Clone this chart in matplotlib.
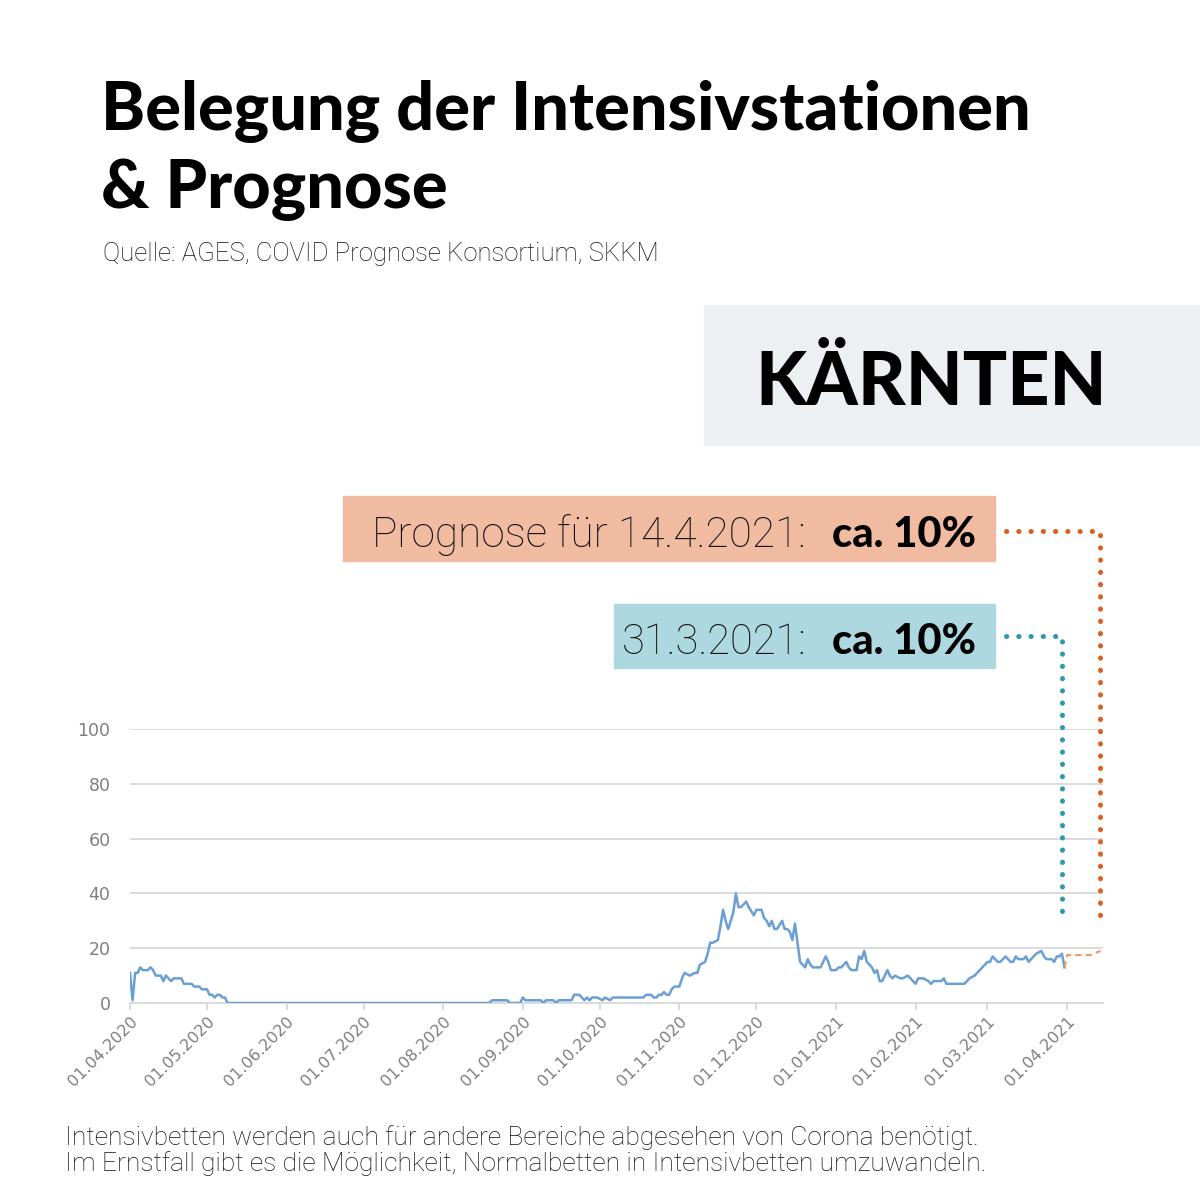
import matplotlib
matplotlib.use("Agg")
import matplotlib.pyplot as plt
import matplotlib.dates as mdates
from matplotlib.patches import Rectangle
from matplotlib.lines import Line2D
import pandas as pd

# Belegte Intensivbetten Kärnten
dates = [
    "2020-04-01", "2020-04-02", "2020-04-03", "2020-04-04", "2020-04-05", "2020-04-06",
    "2020-04-08", "2020-04-09", "2020-04-10", "2020-04-11", "2020-04-13", "2020-04-14",
    "2020-04-15", "2020-04-17", "2020-04-18", "2020-04-21", "2020-04-22", "2020-04-25",
    "2020-04-26", "2020-04-28", "2020-04-29", "2020-05-01", "2020-05-02", "2020-05-03",
    "2020-05-04", "2020-05-05", "2020-05-06", "2020-05-07", "2020-05-08", "2020-05-09",
    "2020-08-19", "2020-08-20", "2020-08-26", "2020-08-27", "2020-08-31", "2020-09-01",
    "2020-09-02", "2020-09-08", "2020-09-09", "2020-09-10", "2020-09-13", "2020-09-14",
    "2020-09-15", "2020-09-20", "2020-09-21", "2020-09-23", "2020-09-24", "2020-09-25",
    "2020-09-26", "2020-09-27", "2020-09-28", "2020-09-30", "2020-10-02", "2020-10-03",
    "2020-10-05", "2020-10-06", "2020-10-08", "2020-10-18", "2020-10-19", "2020-10-21",
    "2020-10-22", "2020-10-23", "2020-10-24", "2020-10-25", "2020-10-26", "2020-10-27",
    "2020-10-28", "2020-10-29", "2020-10-30", "2020-11-01", "2020-11-02", "2020-11-03",
    "2020-11-05", "2020-11-07", "2020-11-08", "2020-11-09", "2020-11-11", "2020-11-12",
    "2020-11-13", "2020-11-14", "2020-11-16", "2020-11-17", "2020-11-18", "2020-11-19",
    "2020-11-20", "2020-11-22", "2020-11-23", "2020-11-24", "2020-11-25", "2020-11-27",
    "2020-11-28", "2020-11-30", "2020-12-01", "2020-12-03", "2020-12-04", "2020-12-05",
    "2020-12-06", "2020-12-07", "2020-12-08", "2020-12-09", "2020-12-11", "2020-12-12",
    "2020-12-13", "2020-12-14", "2020-12-15", "2020-12-16", "2020-12-17", "2020-12-18",
    "2020-12-20", "2020-12-21", "2020-12-22", "2020-12-23", "2020-12-26", "2020-12-28",
    "2020-12-29", "2020-12-30", "2021-01-01", "2021-01-02", "2021-01-03", "2021-01-05",
    "2021-01-06", "2021-01-07", "2021-01-09", "2021-01-10", "2021-01-11", "2021-01-12",
    "2021-01-13", "2021-01-15", "2021-01-16", "2021-01-17", "2021-01-18", "2021-01-19",
    "2021-01-21", "2021-01-22", "2021-01-23", "2021-01-24", "2021-01-26", "2021-01-27",
    "2021-01-29", "2021-01-30", "2021-01-31", "2021-02-01", "2021-02-02", "2021-02-04",
    "2021-02-06", "2021-02-07", "2021-02-08", "2021-02-11", "2021-02-12", "2021-02-13",
    "2021-02-16", "2021-02-20", "2021-02-22", "2021-02-24", "2021-02-26", "2021-02-27",
    "2021-03-01", "2021-03-02", "2021-03-03", "2021-03-05", "2021-03-06", "2021-03-07",
    "2021-03-08", "2021-03-10", "2021-03-11", "2021-03-12", "2021-03-13", "2021-03-15",
    "2021-03-16", "2021-03-17", "2021-03-18", "2021-03-20", "2021-03-22", "2021-03-23",
    "2021-03-24", "2021-03-26", "2021-03-27", "2021-03-28", "2021-03-29", "2021-03-30",
    "2021-03-31",
]
beds = [
    11, 1, 11, 11, 13, 12,
    12, 13, 12, 10, 10, 8,
    10, 8, 9, 9, 7, 7,
    6, 6, 5, 5, 3, 3,
    2, 3, 3, 2, 2, 0,
    0, 1, 1, 0, 0, 2,
    1, 1, 0, 1, 1, 0,
    1, 1, 3, 3, 2, 1,
    2, 1, 2, 2, 1, 2,
    1, 2, 2, 2, 3, 3,
    2, 2, 3, 3, 4, 3,
    3, 5, 6, 6, 9, 11,
    10, 11, 11, 14, 15, 18,
    22, 22, 23, 28, 34, 30,
    27, 33, 40, 35, 35, 37,
    35, 32, 34, 34, 31, 30,
    28, 30, 27, 27, 30, 27,
    27, 26, 23, 29, 22, 15,
    13, 16, 14, 13, 13, 17,
    15, 12, 12, 13, 13, 15,
    13, 12, 12, 17, 16, 19,
    15, 13, 11, 12, 8, 8,
    12, 10, 9, 10, 9, 9,
    10, 9, 8, 7, 9, 9,
    8, 7, 8, 8, 9, 7,
    7, 7, 9, 10, 12, 13,
    15, 15, 17, 15, 15, 16,
    17, 15, 15, 17, 16, 16,
    17, 15, 16, 18, 19, 17,
    16, 16, 15, 17, 17, 18,
    13,
]

# Prognose bis 14.4.2021
forecast_dates = ["2021-03-31", "2021-04-01", "2021-04-10", "2021-04-14"]
forecast_beds = [13, 17.5, 17.5, 19]

y_ticks = [0, 20, 40, 60, 80, 100]

source = "Quelle: AGES, COVID Prognose Konsortium, SKKM"
region = "KÄRNTEN"
footer_1 = "Intensivbetten werden auch für andere Bereiche abgesehen von Corona benötigt."
footer_2 = "Im Ernstfall gibt es die Möglichkeit, Normalbetten in Intensivbetten umzuwandeln."

W = H = 1200
THIN = dict(family="Roboto", fontweight="light", color="#111111")


def fx(px):
    return px / W


def fy(py):
    return 1 - py / H


fig = plt.figure(figsize=(12, 12), dpi=100)
fig.patch.set_facecolor("white")

# Titel
fig.text(fx(101), fy(130), "Belegung der Intensivstationen", fontsize=48, fontweight="black",
         family="Lato", va="baseline", ha="left")
fig.text(fx(101), fy(208), "& Prognose", fontsize=48, fontweight="black",
         family="Lato", va="baseline", ha="left")
fig.text(fx(103), fy(261), source, fontsize=18.5, va="baseline", ha="left", **THIN)

# Region
fig.patches.append(Rectangle((fx(704), fy(445)), fx(1200 - 704), (445 - 305) / H,
                             transform=fig.transFigure, color="#ECF0F3", zorder=0))
fig.text(fx(931), fy(405), region, fontsize=53, fontweight="black", family="Lato",
         ha="center", va="baseline")

# Infoboxen
fig.patches.append(Rectangle((fx(343), fy(561)), fx(995 - 343), (561 - 496) / H,
                             transform=fig.transFigure, color="#F0BBA0", zorder=0))
fig.text(fx(806), fy(547), "Prognose für 14.4.2021:", fontsize=30.5,
         ha="right", va="baseline", **THIN)
fig.text(fx(976), fy(547), "ca. 10%", fontsize=30, fontweight="black",
         family="Lato", ha="right", va="baseline")

fig.patches.append(Rectangle((fx(614), fy(668)), fx(995 - 614), (668 - 604) / H,
                             transform=fig.transFigure, color="#ADD8E0", zorder=0))
fig.text(fx(806), fy(654), "31.3.2021:", fontsize=30, ha="right", va="baseline", **THIN)
fig.text(fx(976), fy(654), "ca. 10%", fontsize=30, fontweight="black",
         family="Lato", ha="right", va="baseline")

# punktierte Verbindungslinien
dot = dict(transform=fig.transFigure, linewidth=3.6, linestyle=(0, (0.05, 2.4)),
           dash_capstyle="round", zorder=5)
fig.add_artist(Line2D([fx(1006), fx(1100), fx(1100)], [fy(531), fy(531), fy(922)],
                      color="#D9601E", **dot))
fig.add_artist(Line2D([fx(1006), fx(1062), fx(1062)], [fy(636), fy(636), fy(922)],
                      color="#2E98AC", **dot))

# Diagramm
ax = fig.add_axes([fx(130), fy(1003), fx(1103 - 130), (1003 - 729) / H])
x = pd.to_datetime(dates)
xf = pd.to_datetime(forecast_dates)
ax.plot(x, beds, color="#6A9FD4", linewidth=1.8, zorder=3)
ax.plot(xf, forecast_beds, color="#F19A5C", linewidth=1.5, linestyle=(0, (3, 2)), zorder=3)

ax.set_xlim(pd.Timestamp("2020-04-01"), pd.Timestamp("2021-04-15"))
ax.set_ylim(0, 100)
ax.set_yticks(y_ticks)
ax.grid(axis="y", color="#D9D9D9", linewidth=1.3)
ax.set_axisbelow(True)
for s in ["top", "right", "left"]:
    ax.spines[s].set_visible(False)
ax.spines["bottom"].set_color("#D9D9D9")
ax.spines["bottom"].set_linewidth(1.3)

ax.xaxis.set_major_locator(mdates.MonthLocator())
ax.xaxis.set_major_formatter(mdates.DateFormatter("%d.%m.%Y"))
ax.tick_params(axis="x", colors="#D9D9D9", length=5, width=1.3, labelcolor="#7F7F7F",
               labelsize=11.5, pad=3)
ax.tick_params(axis="y", length=0, labelcolor="#7F7F7F", labelsize=12.5, pad=14)
for lab in ax.get_xticklabels():
    lab.set_rotation(45)
    lab.set_ha("right")
    lab.set_rotation_mode("anchor")

# Fußnote
fig.text(fx(65), fy(1145), footer_1, fontsize=19, ha="left", va="baseline", **THIN)
fig.text(fx(65), fy(1171), footer_2, fontsize=19, ha="left", va="baseline", **THIN)

fig.savefig("out.png", dpi=100)
